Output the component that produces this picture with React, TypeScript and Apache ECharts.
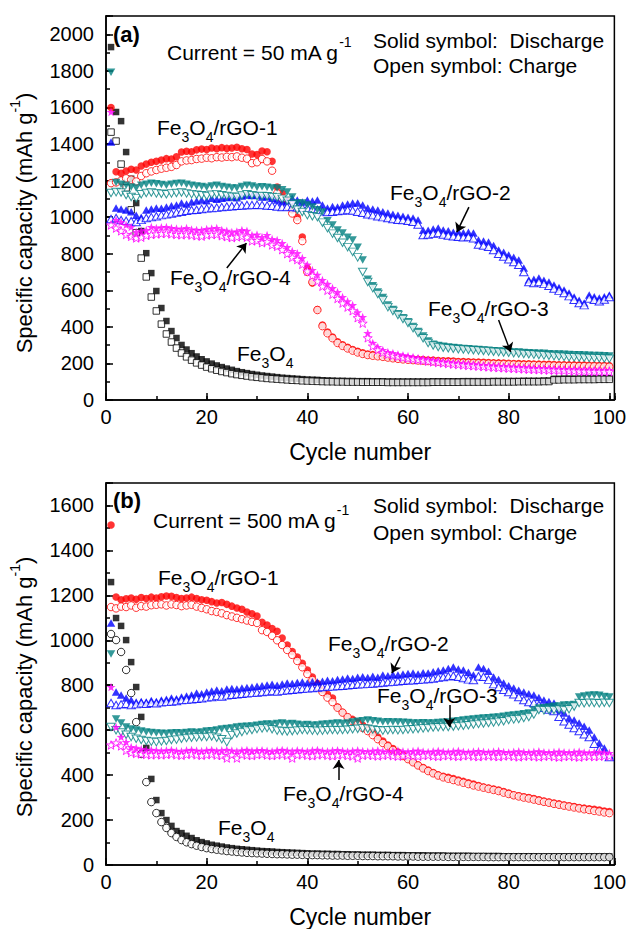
import React, { useEffect, useRef } from "react";
import * as echarts from "echarts";

// ---------- (a) Current = 50 mA g-1, cycles 1..100 ----------
const fe3o4DisA = [
  1930, 1575, 1525, 1356, 1210, 1077, 924, 803, 694, 596,
  503, 432, 377, 339, 301, 276, 256, 238, 223, 211,
  199, 189, 180, 172, 165, 158, 152, 147, 142, 138,
  134, 131, 128, 125, 122, 120, 118, 116, 114, 112,
  111, 110, 108, 107, 106, 105, 105, 104, 104, 103,
  103, 103, 102, 102, 102, 101, 101, 101, 101, 101,
  101, 101, 101, 101, 102, 102, 102, 102, 102, 102,
  103, 103, 103, 103, 103, 103, 104, 104, 104, 104,
  104, 104, 105, 105, 105, 105, 106, 106, 116, 116,
  117, 117, 117, 117, 118, 118, 118, 118, 119, 119,
];
const fe3o4ChA = [
  1465, 1416, 1290, 1160, 1040, 915, 776, 673, 563, 487,
  415, 361, 317, 284, 257, 236, 218, 203, 191, 180,
  171, 163, 156, 150, 144, 139, 135, 131, 127, 124,
  121, 118, 116, 114, 112, 110, 108, 107, 105, 104,
  103, 102, 101, 100, 100, 99, 99, 98, 98, 98,
  97, 97, 97, 97, 97, 96, 96, 96, 96, 96,
  96, 96, 96, 96, 97, 97, 97, 97, 97, 97,
  98, 98, 98, 98, 98, 98, 99, 99, 99, 99,
  99, 100, 100, 100, 100, 100, 101, 101, 110, 110,
  111, 111, 111, 112, 112, 112, 112, 113, 113, 113,
];
const rgo1DisA = [
  1600, 1248, 1240, 1252, 1262, 1258, 1280, 1290, 1300, 1306,
  1312, 1320, 1318, 1330, 1356, 1360, 1358, 1368, 1372, 1370,
  1378, 1374, 1380, 1376, 1378, 1382, 1374, 1370, 1345, 1342,
  1362, 1358, 1305, 1165, 1130, 1090, 1040, 1000, 891, 720,
  640, 495, 410, 372, 345, 318, 302, 288, 276, 266,
  258, 252, 248, 245, 242, 238, 234, 231, 228, 226,
  224, 222, 221, 219, 218, 216, 215, 214, 213, 211,
  210, 209, 208, 207, 206, 205, 204, 203, 202, 201,
  200, 199, 198, 198, 197, 196, 195, 195, 194, 193,
  193, 192, 192, 191, 191, 190, 190, 189, 189, 188,
];
const rgo1ChA = [
  1186, 1190, 1200, 1212, 1205, 1195, 1225, 1240, 1250, 1258,
  1265, 1270, 1275, 1285, 1305, 1310, 1312, 1318, 1320, 1325,
  1322, 1328, 1326, 1330, 1328, 1332, 1325, 1320, 1295, 1300,
  1318, 1305, 1254, 1130, 1100, 1060, 1020, 984, 869, 700,
  645, 492, 404, 365, 338, 312, 296, 282, 270, 260,
  252, 246, 242, 239, 236, 232, 228, 225, 222, 220,
  218, 216, 215, 213, 212, 210, 209, 208, 207, 205,
  204, 203, 202, 201, 200, 199, 198, 197, 196, 195,
  194, 193, 192, 192, 191, 190, 189, 189, 188, 187,
  187, 186, 186, 185, 185, 184, 184, 183, 183, 182,
];
const rgo2DisA = [
  1411, 1050, 1045, 1039, 1030, 1010, 1000, 1039, 1045, 1050,
  1048, 1055, 1062, 1066, 1077, 1072, 1083, 1088, 1094, 1090,
  1104, 1098, 1104, 1108, 1110, 1106, 1115, 1121, 1118, 1121,
  1110, 1112, 1104, 1094, 1083, 1090, 1104, 1094, 1083, 1094,
  1088, 1094, 1066, 1050, 1058, 1055, 1066, 1072, 1077, 1077,
  1066, 1050, 1045, 1039, 1030, 1022, 1016, 1011, 1005, 1000,
  995, 984, 929, 929, 935, 940, 930, 925, 918, 920,
  915, 918, 913, 875, 870, 864, 845, 820, 808, 793,
  780, 765, 722, 656, 660, 667, 655, 645, 629, 615,
  601, 585, 563, 545, 530, 574, 565, 558, 565, 574,
];
const rgo2ChA = [
  990, 995, 984, 980, 978, 973, 985, 995, 1000, 1005,
  1011, 1015, 1020, 1025, 1030, 1035, 1039, 1040, 1045, 1048,
  1050, 1052, 1055, 1058, 1060, 1062, 1064, 1066, 1066, 1068,
  1066, 1064, 1062, 1058, 1055, 1056, 1055, 1054, 1052, 1050,
  1046, 1040, 1032, 1028, 1030, 1034, 1036, 1039, 1036, 1030,
  1024, 1016, 1011, 1005, 1000, 995, 990, 986, 984, 980,
  975, 960, 902, 905, 910, 913, 905, 900, 895, 893,
  890, 892, 885, 850, 845, 838, 820, 800, 785, 770,
  755, 740, 700, 645, 640, 645, 635, 625, 610, 598,
  585, 568, 548, 530, 519, 555, 548, 540, 550, 563,
];
const rgo3DisA = [
  1793, 1190, 1180, 1175, 1165, 1159, 1175, 1180, 1186, 1182,
  1178, 1175, 1180, 1184, 1186, 1180, 1175, 1170, 1168, 1164,
  1170, 1175, 1168, 1164, 1160, 1159, 1168, 1175, 1170, 1164,
  1166, 1164, 1160, 1159, 1150, 1137, 1110, 1077, 1077, 1066,
  1055, 1040, 1028, 980, 957, 930, 913, 890, 875, 836,
  765, 660, 625, 590, 560, 520, 495, 472, 450, 428,
  402, 375, 350, 322, 305, 298, 294, 290, 287, 285,
  282, 280, 278, 276, 274, 272, 270, 268, 266, 265,
  263, 262, 260, 259, 257, 256, 255, 253, 252, 251,
  250, 249, 248, 247, 246, 245, 244, 243, 242, 241,
];
const rgo3ChA = [
  1132, 1137, 1135, 1121, 1110, 1104, 1125, 1132, 1135, 1130,
  1128, 1125, 1130, 1132, 1135, 1130, 1126, 1122, 1120, 1116,
  1122, 1126, 1120, 1116, 1112, 1110, 1118, 1125, 1120, 1115,
  1116, 1114, 1110, 1108, 1100, 1090, 1070, 1040, 1028, 1011,
  1005, 1000, 970, 940, 910, 886, 860, 836, 810, 780,
  700, 645, 612, 580, 547, 508, 487, 465, 443, 421,
  393, 366, 338, 312, 298, 290, 286, 283, 280, 278,
  276, 274, 272, 270, 268, 266, 264, 262, 260, 258,
  256, 254, 252, 250, 248, 246, 244, 242, 240, 238,
  236, 234, 233, 232, 231, 230, 229, 228, 227, 226,
];
const rgo4DisA = [
  1575, 984, 973, 957, 946, 918, 925, 929, 946, 940,
  944, 946, 940, 938, 935, 940, 932, 930, 929, 935,
  938, 940, 930, 925, 918, 922, 929, 925, 902, 905,
  891, 902, 880, 875, 858, 836, 815, 803, 776, 740,
  711, 685, 656, 635, 612, 590, 563, 540, 519, 480,
  454, 366, 312, 290, 273, 262, 257, 250, 245, 240,
  235, 230, 226, 222, 218, 214, 210, 208, 205, 202,
  200, 198, 196, 193, 191, 189, 188, 186, 185, 183,
  182, 180, 178, 177, 175, 174, 173, 172, 171, 170,
  169, 168, 168, 167, 166, 166, 165, 165, 164, 164,
];
const rgo4ChA = [
  957, 940, 925, 905, 895, 886, 890, 900, 905, 908,
  910, 912, 908, 905, 903, 906, 902, 898, 896, 902,
  905, 906, 898, 893, 888, 892, 896, 890, 870, 872,
  860, 866, 848, 840, 822, 800, 780, 768, 742, 705,
  680, 650, 622, 600, 578, 555, 530, 508, 488, 450,
  420, 340, 295, 274, 260, 250, 244, 238, 232, 228,
  224, 220, 216, 212, 208, 205, 202, 199, 196, 194,
  191, 189, 187, 185, 183, 181, 179, 177, 176, 174,
  173, 171, 170, 168, 167, 166, 165, 164, 163, 162,
  161, 160, 159, 158, 157, 157, 156, 156, 155, 155,
];

// ---------- (b) Current = 500 mA g-1, cycles 1..100 ----------
const fe3o4DisB = [
  1259, 1099, 1064, 1001, 903, 792, 659, 521, 383, 289,
  231, 200, 174, 151, 142, 130, 120, 110, 102, 96,
  90, 86, 82, 78, 75, 72, 70, 68, 66, 64,
  62, 61, 60, 58, 57, 56, 55, 54, 53, 52,
  51, 51, 50, 50, 49, 49, 48, 48, 47, 47,
  46, 46, 46, 45, 45, 45, 44, 44, 44, 43,
  43, 43, 43, 42, 42, 42, 42, 41, 41, 41,
  41, 41, 40, 40, 40, 40, 40, 40, 39, 39,
  39, 39, 39, 39, 39, 38, 38, 38, 38, 38,
  38, 38, 38, 38, 38, 38, 38, 38, 38, 38,
];
const fe3o4ChB = [
  1028, 1001, 948, 868, 765, 636, 494, 369, 280, 231,
  191, 165, 142, 125, 111, 101, 93, 86, 80, 75,
  71, 68, 65, 62, 60, 58, 56, 54, 53, 52,
  51, 50, 49, 48, 48, 47, 46, 46, 45, 45,
  44, 44, 43, 43, 42, 42, 42, 41, 41, 41,
  40, 40, 40, 39, 39, 39, 39, 38, 38, 38,
  38, 37, 37, 37, 37, 37, 37, 36, 36, 36,
  36, 36, 36, 36, 36, 35, 35, 35, 35, 35,
  35, 35, 35, 35, 35, 35, 35, 35, 35, 35,
  35, 35, 35, 35, 35, 35, 35, 35, 35, 35,
];
const rgo1DisB = [
  1513, 1193, 1180, 1185, 1188, 1183, 1190, 1186, 1192, 1188,
  1194, 1197, 1196, 1190, 1186, 1188, 1192, 1186, 1180, 1178,
  1172, 1166, 1168, 1160, 1152, 1144, 1138, 1126, 1118, 1108,
  1080, 1068, 1052, 1040, 1010, 979, 950, 926, 898, 868,
  837, 808, 779, 760, 743, 703, 680, 659, 648, 636,
  622, 610, 590, 570, 552, 534, 518, 503, 490, 476,
  460, 445, 434, 423, 412, 401, 395, 390, 385, 378,
  372, 366, 360, 354, 347, 343, 338, 334, 327, 320,
  312, 308, 304, 300, 296, 290, 285, 280, 276, 272,
  267, 264, 260, 256, 253, 250, 248, 245, 240, 238,
];
const rgo1ChB = [
  1148, 1142, 1150, 1148, 1155, 1145, 1152, 1150, 1156, 1158,
  1160, 1155, 1160, 1157, 1152, 1155, 1158, 1150, 1144, 1138,
  1130, 1126, 1120, 1112, 1106, 1100, 1094, 1088, 1082, 1077,
  1045, 1037, 1020, 1000, 979, 957, 935, 908, 880, 850,
  823, 795, 770, 745, 725, 700, 678, 658, 640, 625,
  610, 596, 578, 560, 543, 528, 512, 498, 485, 471,
  457, 443, 430, 418, 408, 398, 390, 384, 378, 372,
  366, 360, 354, 349, 344, 339, 334, 329, 322, 316,
  310, 305, 300, 296, 291, 286, 281, 277, 272, 268,
  264, 260, 256, 252, 248, 245, 241, 238, 234, 231,
];
const rgo2DisB = [
  1077, 770, 757, 743, 734, 725, 728, 725, 732, 728,
  734, 738, 743, 740, 748, 752, 757, 765, 762, 770,
  774, 779, 776, 783, 786, 783, 788, 790, 792, 795,
  798, 801, 804, 800, 806, 810, 808, 812, 814, 810,
  815, 814, 818, 822, 820, 826, 828, 832, 830, 836,
  838, 834, 840, 836, 846, 842, 848, 846, 850, 852,
  854, 850, 856, 854, 860, 864, 868, 875, 881, 872,
  868, 858, 846, 881, 875, 862, 837, 825, 810, 798,
  788, 778, 770, 762, 757, 745, 734, 728, 721, 690,
  676, 654, 645, 632, 618, 601, 570, 543, 521, 490,
];
const rgo2ChB = [
  721, 712, 715, 718, 712, 716, 720, 718, 722, 720,
  724, 726, 728, 730, 734, 736, 738, 740, 742, 746,
  748, 752, 750, 755, 758, 760, 762, 764, 766, 768,
  770, 772, 774, 772, 776, 778, 780, 782, 784, 786,
  788, 790, 792, 794, 795, 797, 798, 800, 802, 804,
  805, 806, 808, 810, 812, 814, 816, 818, 820, 822,
  822, 824, 826, 828, 830, 834, 837, 840, 842, 838,
  832, 826, 823, 840, 838, 825, 805, 792, 780, 770,
  760, 748, 734, 725, 721, 712, 700, 692, 685, 660,
  640, 625, 610, 596, 582, 570, 540, 515, 498, 481,
];
const rgo3DisB = [
  939, 650, 632, 614, 605, 601, 596, 592, 590, 587,
  586, 585, 587, 588, 587, 590, 592, 590, 592, 596,
  598, 601, 605, 608, 610, 614, 616, 618, 619, 622,
  625, 628, 626, 630, 632, 628, 630, 626, 623, 625,
  622, 623, 626, 628, 630, 632, 630, 632, 636, 640,
  642, 645, 642, 640, 636, 638, 636, 636, 635, 634,
  632, 632, 633, 632, 632, 634, 635, 636, 640, 642,
  645, 648, 650, 652, 654, 655, 657, 659, 662, 665,
  667, 670, 673, 676, 690, 699, 700, 703, 706, 708,
  712, 712, 714, 748, 752, 755, 757, 755, 750, 748,
];
const rgo3ChB = [
  614, 600, 590, 580, 570, 562, 556, 552, 549, 547,
  550, 552, 556, 558, 562, 565, 566, 568, 570, 570,
  572, 566, 560, 547, 578, 585, 592, 598, 601, 605,
  608, 610, 604, 598, 596, 594, 596, 598, 601, 600,
  598, 597, 598, 600, 601, 600, 601, 602, 604, 606,
  608, 606, 603, 600, 598, 600, 601, 600, 601, 603,
  604, 606, 608, 610, 612, 613, 614, 614, 616, 618,
  620, 622, 625, 628, 630, 632, 634, 637, 640, 645,
  648, 650, 654, 659, 670, 690, 688, 690, 690, 692,
  690, 693, 705, 721, 720, 722, 721, 720, 722, 721,
];
const rgo4DisB = [
  792, 614, 570, 547, 525, 521, 516, 512, 512, 510,
  508, 510, 512, 508, 506, 510, 512, 509, 507, 510,
  512, 508, 510, 512, 509, 506, 510, 512, 508, 510,
  511, 508, 506, 510, 512, 509, 507, 510, 508, 506,
  510, 512, 508, 506, 509, 511, 508, 505, 508, 510,
  507, 505, 508, 510, 506, 504, 507, 509, 506, 504,
  507, 509, 505, 503, 506, 508, 505, 503, 506, 508,
  504, 502, 505, 507, 504, 502, 505, 507, 503, 501,
  504, 506, 503, 501, 504, 506, 502, 500, 503, 505,
  502, 500, 503, 505, 501, 499, 502, 504, 500, 498,
];
const rgo4ChB = [
  534, 543, 530, 510, 500, 496, 494, 492, 490, 492,
  490, 492, 494, 490, 488, 492, 494, 490, 488, 491,
  493, 489, 487, 476, 490, 476, 492, 489, 487, 491,
  493, 489, 487, 490, 492, 488, 476, 490, 492, 488,
  486, 490, 492, 488, 486, 489, 491, 487, 485, 476,
  488, 490, 487, 485, 488, 490, 486, 484, 487, 489,
  486, 484, 487, 489, 485, 483, 486, 488, 485, 483,
  486, 488, 484, 482, 485, 487, 484, 482, 485, 487,
  483, 481, 484, 486, 483, 481, 484, 486, 482, 480,
  483, 485, 482, 480, 483, 485, 482, 484, 486, 485,
];

// Annotation arrows, [tail, head] in (cycle, capacity) coordinates
const arrowsA = [
  [[72.1, 1055], [69.7, 918]],
  [[24.0, 722], [27.9, 858]],
  [[78.0, 437], [80.4, 262]],
];
const arrowsB = [
  [[58.4, 926], [56.8, 854]],
  [[68.2, 712], [68.2, 614]],
  [[46.2, 378], [46.2, 467]],
];

const FONT = '"Liberation Sans", Arial, Helvetica, sans-serif';
const BLACK = "#000000";
const RED = "#ff0000";
const BLUE = "#0000ff";
const TEAL = "#008080";
const MAGENTA = "#ff00ff";
const STAR =
  "path://M0,-10L2.35,-3.24L9.51,-3.09L3.8,1.24L5.88,8.09L0,4L-5.88,8.09L-3.8,1.24L-9.51,-3.09L-2.35,-3.24Z";

const GRIDS = [
  { left: 103, top: 16, width: 514, height: 384 },
  { left: 103, top: 483, width: 514, height: 382 },
];
const Y_MAX = [2100, 1700];

type Mat = {
  name: string;
  color: string;
  symbol: string;
  size: number | number[];
  rotate: number;
  dis: number[];
  ch: number[];
  chSymbol?: string;
  chSize?: number | number[];
};

const panelA: Mat[] = [
  { name: "Fe3O4", color: BLACK, symbol: "rect", size: 6.5, rotate: 0, dis: fe3o4DisA, ch: fe3o4ChA },
  { name: "Fe3O4/rGO-1", color: RED, symbol: "circle", size: 7.5, rotate: 0, dis: rgo1DisA, ch: rgo1ChA },
  { name: "Fe3O4/rGO-2", color: BLUE, symbol: "triangle", size: [8.5, 7.5], rotate: 0, dis: rgo2DisA, ch: rgo2ChA },
  { name: "Fe3O4/rGO-3", color: TEAL, symbol: "triangle", size: [8.5, 7.5], rotate: 180, dis: rgo3DisA, ch: rgo3ChA },
  { name: "Fe3O4/rGO-4", color: MAGENTA, symbol: STAR, size: 9, rotate: 0, dis: rgo4DisA, ch: rgo4ChA },
];
const panelB: Mat[] = [
  { name: "Fe3O4", color: BLACK, symbol: "rect", size: 6.5, rotate: 0, dis: fe3o4DisB, ch: fe3o4ChB, chSymbol: "circle", chSize: 7.5 },
  { name: "Fe3O4/rGO-1", color: RED, symbol: "circle", size: 7.5, rotate: 0, dis: rgo1DisB, ch: rgo1ChB },
  { name: "Fe3O4/rGO-2", color: BLUE, symbol: "triangle", size: [8.5, 7.5], rotate: 0, dis: rgo2DisB, ch: rgo2ChB },
  { name: "Fe3O4/rGO-3", color: TEAL, symbol: "triangle", size: [8.5, 7.5], rotate: 180, dis: rgo3DisB, ch: rgo3ChB },
  { name: "Fe3O4/rGO-4", color: MAGENTA, symbol: STAR, size: 9, rotate: 0, dis: rgo4DisB, ch: rgo4ChB },
];

function scatter(p: number, m: Mat, open: boolean, arrows?: number[][][]) {
  const values = open ? m.ch : m.dis;
  const s: any = {
    type: "scatter",
    name: m.name + (open ? " charge" : " discharge"),
    xAxisIndex: 2 * p,
    yAxisIndex: 2 * p,
    symbol: open ? m.chSymbol || m.symbol : m.symbol,
    symbolSize: open ? m.chSize || m.size : m.size,
    symbolRotate: m.rotate,
    symbolKeepAspect: true,
    silent: true,
    itemStyle: open
      ? { color: "#ffffff", borderColor: m.color, borderWidth: 1 }
      : { color: m.color, borderWidth: 0 },
    data: values.map((v, i) => [i + 1, v]),
  };
  if (arrows) {
    s.markLine = {
      silent: true,
      symbol: ["none", "arrow"],
      symbolSize: 9,
      label: { show: false },
      lineStyle: { color: "#000", width: 1.5, type: "solid" },
      data: arrows.map(([a, b]) => [{ coord: a }, { coord: b }]),
    };
  }
  return s;
}

const tickStyle = { color: "#000", width: 1.5 };

function xMain(p: number) {
  return {
    type: "value",
    gridIndex: p,
    position: "bottom",
    min: 0,
    max: 101,
    interval: 20,
    axisLine: { show: true, onZero: false, lineStyle: tickStyle },
    axisTick: { show: true, inside: true, length: 7, lineStyle: tickStyle },
    axisLabel: {
      color: "#000",
      fontSize: 20,
      fontFamily: FONT,
      margin: 7,
      formatter: (v: number) => (v % 20 === 0 && v <= 100 ? String(v) : ""),
    },
    splitLine: { show: false },
    name: "Cycle number",
    nameLocation: "middle",
    nameGap: 40,
    nameTextStyle: { color: "#000", fontSize: 23, fontFamily: FONT },
  };
}
function xMinor(p: number) {
  return {
    type: "value",
    gridIndex: p,
    position: "bottom",
    min: 0,
    max: 101,
    interval: 10,
    axisLine: { show: false },
    axisTick: { show: true, inside: true, length: 4, lineStyle: tickStyle },
    axisLabel: { show: false },
    splitLine: { show: false },
  };
}
function yMain(p: number) {
  const max = Y_MAX[p];
  return {
    type: "value",
    gridIndex: p,
    position: "left",
    min: 0,
    max,
    interval: 200,
    axisLine: { show: true, onZero: false, lineStyle: tickStyle },
    axisTick: { show: true, inside: true, length: 7, lineStyle: tickStyle },
    axisLabel: {
      color: "#000",
      fontSize: 20,
      fontFamily: FONT,
      margin: 12,
      formatter: (v: number) => (v % 200 === 0 && v < max ? String(v) : ""),
    },
    splitLine: { show: false },
    name: "{m|Specific capacity (mAh g}{u|-1}{m|)}",
    nameLocation: "middle",
    nameGap: 66,
    nameTextStyle: {
      color: "#000",
      fontSize: 22,
      fontFamily: FONT,
      padding: [0, p === 0 ? 30 : 26, 0, 0],
      rich: {
        m: { color: "#000", fontSize: 22, fontFamily: FONT, verticalAlign: "middle" },
        u: { color: "#000", fontSize: 14, fontFamily: FONT, verticalAlign: "middle", padding: [0, 0, 18, 0] },
      },
    },
  };
}
function yMinor(p: number) {
  return {
    type: "value",
    gridIndex: p,
    position: "left",
    min: 0,
    max: Y_MAX[p],
    interval: 100,
    axisLine: { show: false },
    axisTick: { show: true, inside: true, length: 4, lineStyle: tickStyle },
    axisLabel: { show: false },
    splitLine: { show: false },
  };
}

const RICH = {
  m: { fontSize: 21, fontFamily: FONT, fill: "#000", verticalAlign: "middle" },
  b: { fontSize: 22, fontFamily: FONT, fontWeight: "bold", fill: "#000", verticalAlign: "middle" },
  s: { fontSize: 14, fontFamily: FONT, fill: "#000", verticalAlign: "middle", padding: [20, 0, 0, 0] },
  u: { fontSize: 14, fontFamily: FONT, fill: "#000", verticalAlign: "middle", padding: [0, 0, 20, 0] },
};
const FE = "{m|Fe}{s|3}{m|O}{s|4}";

function text(x: number, y: number, t: string) {
  return {
    type: "text",
    x,
    y,
    silent: true,
    z: 100,
    style: { text: t, rich: RICH, fill: "#000", align: "left", verticalAlign: "middle" },
  };
}

function buildOption() {
  const series: any[] = [];
  [panelA, panelB].forEach((mats, p) => {
    mats.forEach((m, k) => {
      series.push(scatter(p, m, false, k === 0 ? (p === 0 ? arrowsA : arrowsB) : undefined));
      series.push(scatter(p, m, true));
    });
  });

  const graphic = [
    text(113, 34, "{b|(a)}"),
    text(167, 52, "{m|Current = 50 mA g}{u|-1}"),
    text(373, 40, "{m|Solid symbol:  Discharge}"),
    text(373, 65, "{m|Open symbol: Charge}"),
    text(157, 127, FE + "{m|/rGO-1}"),
    text(390, 192, FE + "{m|/rGO-2}"),
    text(170, 277, FE + "{m|/rGO-4}"),
    text(428, 308, FE + "{m|/rGO-3}"),
    text(237, 353, FE),

    text(113, 500, "{b|(b)}"),
    text(153, 520, "{m|Current = 500 mA g}{u|-1}"),
    text(373, 505, "{m|Solid symbol:  Discharge}"),
    text(373, 532, "{m|Open symbol: Charge}"),
    text(158, 577, FE + "{m|/rGO-1}"),
    text(328, 643, FE + "{m|/rGO-2}"),
    text(377, 695, FE + "{m|/rGO-3}"),
    text(283, 793, FE + "{m|/rGO-4}"),
    text(218, 827, FE),
  ];

  return {
    animation: false,
    backgroundColor: "#ffffff",
    textStyle: { fontFamily: FONT },
    grid: GRIDS.map((g) => ({
      ...g,
      show: true,
      borderColor: "#000",
      borderWidth: 1.5,
      backgroundColor: "transparent",
      containLabel: false,
    })),
    xAxis: [xMain(0), xMinor(0), xMain(1), xMinor(1)],
    yAxis: [yMain(0), yMinor(0), yMain(1), yMinor(1)],
    series,
    graphic,
  };
}

export default function App() {
  const ref = useRef<HTMLDivElement>(null);
  useEffect(() => {
    if (!ref.current) return;
    const chart = echarts.init(ref.current, null, { renderer: "svg" });
    chart.setOption(buildOption() as any);
    return () => chart.dispose();
  }, []);
  return (
    <div
      ref={ref}
      style={{ position: "absolute", left: 0, top: 0, width: 629, height: 929, background: "#fff" }}
    />
  );
}
